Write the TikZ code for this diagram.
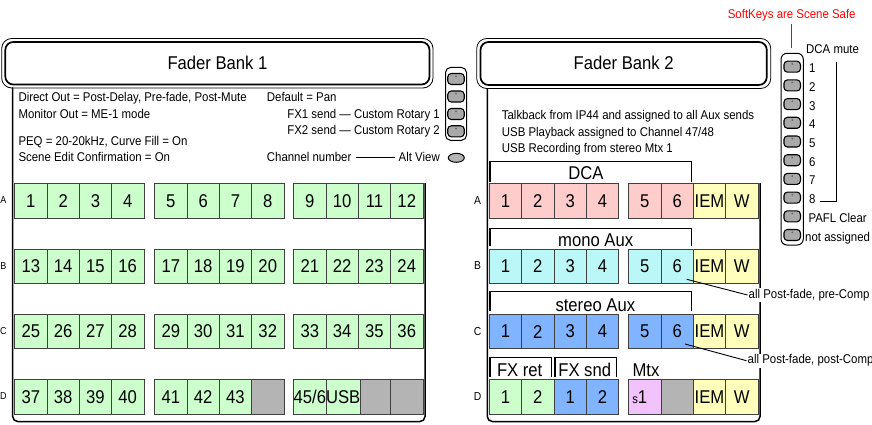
\documentclass[tikz,border=0pt]{standalone}
\usepackage{fontspec}
\setmainfont{Liberation Sans}[FakeStretch=0.9]
\usetikzlibrary{shapes.geometric}
\definecolor{cgreen}{HTML}{CCFFCC}
\definecolor{cpink}{HTML}{FFCCCC}
\definecolor{ccyan}{HTML}{BBF7F7}
\definecolor{cblue}{HTML}{80B4FF}
\definecolor{cyellow}{HTML}{FFFFBB}
\definecolor{cgrey}{HTML}{B4B4B4}
\definecolor{cpurple}{HTML}{F2C2FC}
\definecolor{kgrey}{HTML}{A9A9A9}
\begin{document}
\begin{tikzpicture}[x=1pt,y=-1pt,
 cell/.style={draw=black!75,line width=0.8pt,minimum width=32.3pt,minimum height=34.4pt,inner sep=0pt,anchor=north west,font=\fontsize{18.5}{20}\selectfont},
 sm/.style={inner sep=0pt,font=\fontsize{12.7}{14}\selectfont},
 bigtxt/.style={inner sep=0pt,font=\fontsize{18.5}{20}\selectfont},
 rowlabL/.style={inner sep=0pt,font=\fontsize{10}{11}\selectfont},
 rowlabR/.style={inner sep=0pt,font=\fontsize{11.5}{12}\selectfont},
 brk/.style={line width=1.5pt},
 skey/.style={draw=black,line width=1.1pt,fill=kgrey,rounded corners=3.5pt,minimum width=16.5pt,minimum height=11pt,inner sep=0pt},
 keyframe/.style={line width=1pt,rounded corners=6pt},
 bodyline/.style={line width=1.5pt,rounded corners=5pt},
 hout/.style={line width=0.8pt,rounded corners=10pt},
 hin/.style={line width=1.7pt,rounded corners=8pt},
 ann/.style={sm,fill=white,inner sep=1pt,anchor=west},
]
\useasboundingbox (0,0) rectangle (872,425);

% ---------- headers ----------
\draw[hout] (1.7,38.5) rectangle (433,88);
\draw[hin] (5.3,42) rectangle (429.5,84.5);
\node[bigtxt] (h1) at (217.5,62.5) {Fader Bank 1};
\draw[hout] (476.7,38.5) rectangle (770.7,88.5);
\draw[hin] (480.5,42) rectangle (766.8,85);
\node[bigtxt] (h2) at (623.7,62.5) {Fader Bank 2};

% ---------- panel bodies ----------
\draw[bodyline] (12.7,87.5) -- (12.7,421.5) -- (425,421.5) -- (425,183);
\draw[bodyline] (487.3,88.5) -- (487.3,421.5) -- (760,421.5) -- (760,183);

% ---------- left texts ----------
\node[sm,anchor=base west] (t1) at (18.3,101.7) {Direct Out = Post-Delay, Pre-fade, Post-Mute};
\node[sm,anchor=base west] (t2) at (18.3,118.3) {Monitor Out = ME-1 mode};
\node[sm,anchor=base west] (t3) at (18.3,145) {PEQ = 20-20kHz, Curve Fill = On};
\node[sm,anchor=base west] (t4) at (18.3,161.7) {Scene Edit Confirmation = On};
\node[sm,anchor=base west] (t5) at (266.7,101.7) {Default = Pan};
\node[sm,anchor=base east] (t6) at (440,118.3) {FX1 send — Custom Rotary 1};
\node[sm,anchor=base east] (t7) at (440,134.5) {FX2 send — Custom Rotary 2};
\node[sm,anchor=base west] (t8) at (266.7,161.7) {Channel number};
\node[sm,anchor=base east] (t9) at (440,161.7) {Alt View};
\draw[line width=0.8pt] ([xshift=4pt]t8.east) -- ([xshift=-4pt]t9.west);

% ---------- left keys ----------
\draw[keyframe,rounded corners=5pt] (445.5,67.5) rectangle (466.5,140.3);
\foreach \i/\yy in {1/79,2/96.5,3/114,4/131.3} {
  \node[skey] (lk\i) at (456,\yy) {};
  \fill[black!65] (lk\i.center) ++(0,-2.8) circle (0.9pt);
}
\node[draw,ellipse,fill=cgrey,line width=1pt,minimum width=16pt,minimum height=9pt,inner sep=0pt] (av) at (456.3,157.8) {};

% ---------- right texts ----------
\node[sm,anchor=base west] (r1) at (501.7,119.3) {Talkback from IP44 and assigned to all Aux sends};
\node[sm,anchor=base west] (r2) at (501.7,136) {USB Playback assigned to Channel 47/48};
\node[sm,anchor=base west] (r3) at (501.7,152.7) {USB Recording from stereo Mtx 1};

% ---------- left grid ----------
\foreach \r/\yy in {0/183.3,1/248.6,2/313.9} {
  \foreach \g/\gx in {0/14.3,1/154.3,2/293.3} {
    \foreach \c in {0,1,2,3} {
      \pgfmathtruncatemacro\n{\r*12+\g*4+\c+1}
      \node[cell,fill=cgreen] (L\n) at ({\gx+\c*32.3},\yy) {\n};
    }
  }
}
\node[cell,fill=cgrey] (L44) at ({154.3+3*32.3},379.2) {};
\node[cell,fill=cgrey] (L47) at ({293.3+2*32.3},379.2) {};
\node[cell,fill=cgrey] (L48) at ({293.3+3*32.3},379.2) {};
\foreach \c in {0,1,2,3} {
  \pgfmathtruncatemacro\n{37+\c}
  \node[cell,fill=cgreen] (L\n) at ({14.3+\c*32.3},379.2) {\n};
}
\foreach \c in {0,1,2} {
  \pgfmathtruncatemacro\n{41+\c}
  \node[cell,fill=cgreen] (L\n) at ({154.3+\c*32.3},379.2) {\n};
}
\node[cell,fill=cgreen] (L45) at (293.3,379.2) {45/6};
\node[cell,fill=cgreen] (L46) at (325.6,379.2) {USB};

\foreach \t/\yy in {A/200.5,B/265.8,C/331.1,D/396.4}
  \node[rowlabL] (ll\t) at (3.3,\yy) {\t};

% ---------- right grid ----------
\foreach \row/\yy/\col in {A/183.3/cpink,B/248.8/ccyan,C/314/cblue} {
  \foreach \xx/\t in {489/1,521.3/2,553.6/3,585.9/4,628.3/5,660.6/6}
    \node[cell,fill=\col] (R\row\t) at (\xx,\yy) {\t};
  \node[cell,fill=cyellow] (R\row iem) at (692.9,\yy) {IEM};
  \node[cell,fill=cyellow] (R\row w) at (725.2,\yy) {W};
}
\node[cell,fill=cgreen] (RD1) at (489,379.2) {1};
\node[cell,fill=cgreen] (RD2) at (521.3,379.2) {2};
\node[cell,fill=cblue] (RD3) at (553.6,379.2) {1};
\node[cell,fill=cblue] (RD4) at (585.9,379.2) {2};
\node[cell,fill=cpurple] (RD5) at (628.3,379.2) {\makebox[30pt][l]{\hspace{2.5pt}{\fontsize{12.5}{13}\selectfont s}1}};
\node[cell,fill=cgrey] (RD6) at (660.6,379.2) {};
\node[cell,fill=cyellow] (RDiem) at (692.9,379.2) {IEM};
\node[cell,fill=cyellow] (RDw) at (725.2,379.2) {W};

\foreach \t/\yy in {A/200.5,B/266,C/331.2,D/396.4}
  \node[rowlabR] (rl\t) at (477.5,\yy) {\t};

% ---------- brackets ----------
\draw[brk] (489.8,181.5) |- (691.7,161.7) -- (691.7,181.5);
\node[bigtxt] (bDCA) at (586,172.8) {DCA};
\draw[brk] (489.8,246) |- (691.7,228.3) -- (691.7,246);
\node[bigtxt] (bmono) at (595.7,240) {mono Aux};
\draw[brk] (489.8,311) |- (691.7,291.7) -- (691.7,311);
\node[bigtxt] (bster) at (595.3,305) {stereo Aux};
\draw[brk] (489.8,377) |- (551.7,357.3) -- (551.7,377);
\node[bigtxt] (bfxr) at (519.7,370) {FX ret};
\draw[brk] (555,377) |- (616.7,357.3) -- (616.7,377);
\node[bigtxt] (bfxs) at (584.7,370) {FX snd};
\node[bigtxt] (bmtx) at (646,370) {Mtx};

% ---------- annotations ----------
\node[ann] (annB) at (747.5,295) {all Post-fade, pre-Comp};
\coordinate (pB) at (686.7,279.3);
\draw[line width=0.9pt] (pB) -- (annB.west);
\node[ann] (annC) at (746.5,360.7) {all Post-fade, post-Comp};
\coordinate (pC) at (685,344);
\draw[line width=0.9pt] (pC) -- (annC.west);

% ---------- softkeys ----------
\node[sm,text=red] (sk) at (791.7,15) {SoftKeys are Scene Safe};
\coordinate (skend) at (791.7,48.5);
\draw[red,line width=1.3pt] ([yshift=-3pt]sk.south) -- (skend);
\draw[keyframe] (781,53.3) rectangle (803.3,245);
\foreach \i in {1,...,10} {
  \node[skey] (k\i) at (792.2,{66.7+(\i-1)*18.7}) {};
  \fill[black!65] (k\i.center) ++(0,-2.8) circle (0.9pt);
}
\node[sm,anchor=base west] (dm) at (806,53.3) {DCA mute};
\foreach \i in {1,...,8}
  \node[sm,anchor=base west] (kl\i) at (809,{72.7+(\i-1)*18.7}) {\i};
\node[sm,anchor=base west] (kl9) at (808.3,222.3) {PAFL Clear};
\node[sm,anchor=base west] (kl10) at (805,241) {not assigned};
\coordinate (dmtop) at (836.7,61.7);
\draw[line width=1.2pt] ([xshift=4pt,yshift=2pt]kl8.base east) -| (dmtop);
\end{tikzpicture}
\end{document}
